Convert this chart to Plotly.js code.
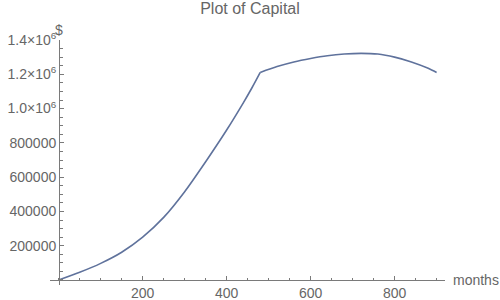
<!DOCTYPE html>
<html>
<head>
<meta charset="utf-8">
<script src="https://cdn.plot.ly/plotly-3.0.1.min.js"></script>
<style>html,body{margin:0;padding:0;background:#fff;}#chart{width:500px;height:300px;}</style>
</head>
<body>
<div id="chart"></div>
<script>
// Data
// Saving phase (months 0-480)
var saveMonths  = [0, 50, 100, 150, 200, 250, 300, 350, 400, 440, 460, 480];
var saveCapital = [0, 45000, 97000, 162000, 250000, 365000, 515000, 690000, 875000, 1035000, 1120000, 1211000];
// Withdrawal phase (months 480-900)
var drawMonths  = [480, 520, 560, 600, 640, 680, 720, 760, 800, 840, 880, 900];
var drawCapital = [1211000, 1245000, 1272000, 1292000, 1308000, 1318000, 1322000, 1318000, 1300000, 1272000, 1235000, 1210000];

var xTickVals = [200, 400, 600, 800];
var xTickText = ['200', '400', '600', '800'];
var yTickVals = [200000, 400000, 600000, 800000, 1000000, 1200000, 1400000];
var yTickText = ['200000', '400000', '600000', '800000',
                 '1.0\u00d710<sup>6</sup>', '1.2\u00d710<sup>6</sup>', '1.4\u00d710<sup>6</sup>'];

var axisColor = '#7a7a7a';
var textColor = '#666666';
var lineColor = '#5f729c';
var fontFam = 'Liberation Sans, Arial, sans-serif';

var traces = [
  {x: saveMonths, y: saveCapital, type: 'scatter', mode: 'lines',
   line: {color: lineColor, width: 1.6, shape: 'spline', smoothing: 0.8}, hoverinfo: 'none'},
  {x: drawMonths, y: drawCapital, type: 'scatter', mode: 'lines',
   line: {color: lineColor, width: 1.6, shape: 'spline', smoothing: 0.8}, hoverinfo: 'none'}
];

var layout = {
  width: 500, height: 300,
  margin: {l: 50, r: 55, t: 40, b: 15},
  paper_bgcolor: '#ffffff', plot_bgcolor: '#ffffff',
  showlegend: false,
  font: {family: fontFam, size: 14, color: textColor},
  title: {text: 'Plot of Capital', x: 0.5, xanchor: 'center', y: 0.99, yanchor: 'top',
          font: {family: fontFam, size: 16, color: textColor}},
  xaxis: {
    range: [-20.7, 920], anchor: 'free', position: 0.0204,
    showgrid: false, zeroline: false, showline: true, linecolor: axisColor, linewidth: 1,
    tickmode: 'array', tickvals: xTickVals, ticktext: xTickText,
    ticks: 'inside', ticklen: 4, tickcolor: axisColor, tickwidth: 1,
    tickfont: {family: fontFam, size: 14, color: textColor},
    minor: {dtick: 50, tick0: 0, ticks: 'inside', ticklen: 2.5, tickcolor: axisColor, showgrid: false}
  },
  yaxis: {
    range: [-29200, 1400000], anchor: 'free', position: 0.0228,
    showgrid: false, zeroline: false, showline: true, linecolor: axisColor, linewidth: 1,
    tickmode: 'array', tickvals: yTickVals, ticktext: yTickText,
    ticks: 'inside', ticklen: 4, tickcolor: axisColor, tickwidth: 1,
    tickfont: {family: fontFam, size: 14, color: textColor},
    minor: {dtick: 50000, tick0: 0, ticks: 'inside', ticklen: 2.5, tickcolor: axisColor, showgrid: false}
  },
  annotations: [
    {text: '$', xref: 'x', yref: 'paper', x: 0, y: 1.0, xanchor: 'center', yanchor: 'bottom',
     showarrow: false, font: {family: fontFam, size: 14, color: textColor}},
    {text: 'months', xref: 'paper', yref: 'y', x: 1.015, y: 0, xanchor: 'left', yanchor: 'middle',
     showarrow: false, font: {family: fontFam, size: 14, color: textColor}}
  ]
};

Plotly.newPlot('chart', traces, layout, {staticPlot: true, displayModeBar: false});
</script>
</body>
</html>
